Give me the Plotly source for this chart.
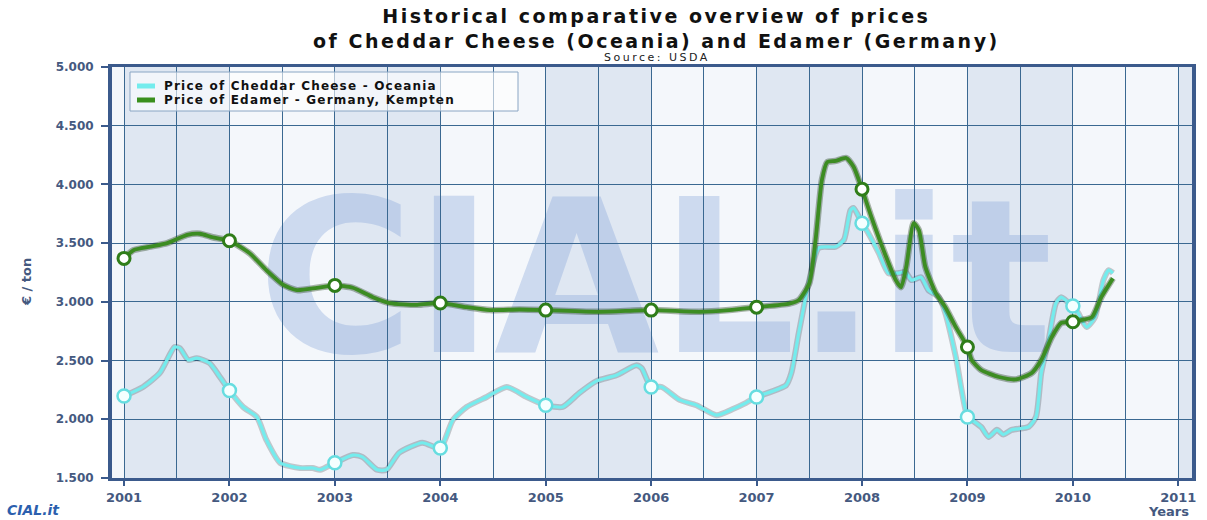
import plotly.graph_objects as go

# Cheddar Cheese - Oceania (decimal years, euro / ton)
cheddar_years = [2001.00, 2001.18, 2001.34, 2001.48, 2001.53, 2001.61, 2001.69, 2001.81, 2001.91,
                 2002.00, 2002.13, 2002.26, 2002.35, 2002.48, 2002.67, 2002.79, 2002.86,
                 2003.00, 2003.17, 2003.26, 2003.40, 2003.49, 2003.61, 2003.83,
                 2004.00, 2004.12, 2004.25, 2004.44, 2004.63, 2004.82,
                 2005.00, 2005.16, 2005.32, 2005.48, 2005.67, 2005.86, 2005.91,
                 2006.00, 2006.10, 2006.27, 2006.43, 2006.62, 2006.77, 2006.90,
                 2007.00, 2007.28, 2007.33, 2007.40, 2007.50, 2007.59, 2007.75, 2007.83, 2007.89, 2007.92,
                 2008.00, 2008.06, 2008.16, 2008.25, 2008.35, 2008.41, 2008.47, 2008.56, 2008.63, 2008.73,
                 2008.79, 2008.89,
                 2009.00, 2009.04, 2009.13, 2009.20, 2009.28, 2009.34, 2009.42, 2009.58, 2009.65, 2009.70,
                 2009.77, 2009.84, 2009.89, 2009.93,
                 2010.00, 2010.05, 2010.13, 2010.21, 2010.29, 2010.34, 2010.38]
cheddar_price = [2198, 2275, 2395, 2615, 2605, 2505, 2520, 2480, 2360,
                 2245, 2105, 2020, 1825, 1630, 1585, 1585, 1570,
                 1630, 1695, 1680, 1570, 1570, 1715, 1800,
                 1755, 1995, 2105, 2190, 2275, 2190,
                 2120, 2105, 2225, 2325, 2375, 2460, 2435,
                 2275, 2275, 2165, 2120, 2035, 2085, 2140,
                 2190, 2290, 2395, 2735, 3185, 3460, 3470, 3530, 3780, 3800,
                 3670, 3585, 3415, 3245, 3245, 3255, 3185, 3210, 3100, 3040,
                 2905, 2530,
                 2020, 1995, 1935, 1850, 1910, 1870, 1910, 1935, 2020, 2395,
                 2675, 2990, 3040, 3015,
                 2965, 2905, 2785, 2870, 3185, 3270, 3245]

# Edamer - Germany, Kempten
edamer_years = [2001.00, 2001.09, 2001.25, 2001.41, 2001.60, 2001.72, 2001.84,
                2002.00, 2002.19, 2002.35, 2002.51, 2002.64, 2002.83,
                2003.00, 2003.17, 2003.36, 2003.52, 2003.78,
                2004.00, 2004.25, 2004.47, 2004.75,
                2005.00, 2005.51,
                2006.00, 2006.46, 2006.74,
                2007.00, 2007.31, 2007.40, 2007.50, 2007.56, 2007.62, 2007.67, 2007.75, 2007.85, 2007.92,
                2008.00, 2008.09, 2008.23, 2008.32, 2008.37, 2008.42, 2008.49, 2008.54, 2008.60, 2008.70,
                2008.79, 2008.89,
                2009.00, 2009.04, 2009.13, 2009.30, 2009.46, 2009.61, 2009.70, 2009.80, 2009.89,
                2010.00, 2010.08, 2010.18, 2010.27, 2010.38]
edamer_price = [3370, 3440, 3470, 3500, 3570, 3580, 3550,
                3520, 3415, 3270, 3145, 3100, 3120,
                3140, 3120, 3040, 2990, 2975,
                2990, 2955, 2930, 2935,
                2930, 2915,
                2930, 2915, 2930,
                2955, 2985, 3015, 3160, 3530, 4040, 4190, 4200, 4225, 4150,
                3960, 3720, 3380, 3185, 3125, 3300, 3670, 3610, 3300, 3075,
                2955, 2785,
                2615, 2505, 2420, 2360, 2340, 2395, 2505, 2700, 2820,
                2830, 2845, 2870, 3040, 3200]

year_ticks = list(range(2001, 2012))
price_ticks = [1500, 2000, 2500, 3000, 3500, 4000, 4500, 5000]
price_labels = ['1.500', '2.000', '2.500', '3.000', '3.500', '4.000', '4.500', '5.000']

CYAN = '#74eced'
GREEN = '#3c8c22'
NAVY = '#3b5a8c'
LABEL = '#45597f'
GRID = '#3a6891'

# plot area in pixels (1207 x 520 page)
L, R, T, B = 112, 1192, 67, 478


def px_x(px):
    return (px - L) / (R - L)


def px_y(py):
    return (B - py) / (B - T)


def yearly(years, values):
    xs = [y for y in years if abs(y - round(y)) < 1e-6]
    ys = [values[years.index(y)] for y in xs]
    return xs, ys


def spaced(text, px):
    return '<span style="letter-spacing:%spx">%s</span>' % (px, text)


def label(text, x, y, size, color='#111111', anchor='center', angle=0):
    return dict(text=text, x=px_x(x), y=px_y(y), xref='paper', yref='paper', showarrow=False,
                xanchor=anchor, yanchor='middle', textangle=angle,
                font=dict(family='DejaVu Sans', size=size, color=color))


fig = go.Figure()

# soft shadows under the lines
fig.add_trace(go.Scatter(x=cheddar_years, y=cheddar_price, mode='lines',
                         line=dict(color='rgba(40,50,60,0.25)', width=6, shape='spline', smoothing=0.6),
                         hoverinfo='skip', showlegend=False))
fig.add_trace(go.Scatter(x=cheddar_years, y=cheddar_price, mode='lines',
                         name='Price of Cheddar Cheese - Oceania',
                         line=dict(color=CYAN, width=3.2, shape='spline', smoothing=0.6),
                         showlegend=False))
fig.add_trace(go.Scatter(x=edamer_years, y=edamer_price, mode='lines',
                         line=dict(color='rgba(20,50,10,0.35)', width=6.5, shape='spline', smoothing=0.6),
                         hoverinfo='skip', showlegend=False))
fig.add_trace(go.Scatter(x=edamer_years, y=edamer_price, mode='lines',
                         name='Price of Edamer - Germany, Kempten',
                         line=dict(color=GREEN, width=3.8, shape='spline', smoothing=0.6),
                         showlegend=False))

cx, cy = yearly(cheddar_years, cheddar_price)
fig.add_trace(go.Scatter(x=cx, y=cy, mode='markers', hoverinfo='skip', showlegend=False,
                         marker=dict(size=13, color='#f4ffff', line=dict(color='#66dde0', width=2.5))))
ex, ey = yearly(edamer_years, edamer_price)
fig.add_trace(go.Scatter(x=ex, y=ey, mode='markers', hoverinfo='skip', showlegend=False,
                         marker=dict(size=12, color='#ffffff', line=dict(color='#2f7d19', width=3))))

shapes = []
# alternating year bands
for yr in range(2001, 2012, 2):
    shapes.append(dict(type='rect', xref='x', yref='y domain', x0=yr, x1=yr + 1, y0=0, y1=1,
                       layer='below', line=dict(width=0), fillcolor='#dfe7f2'))
# watermark
shapes.append(dict(type='rect', xref='paper', yref='paper',
                   x0=px_x(240), x1=px_x(1070), y0=px_y(372), y1=px_y(152),
                   layer='below', line=dict(width=0), fillcolor='rgba(0,0,0,0)',
                   label=dict(text='<b>CIAL.it</b>', textposition='middle center',
                              font=dict(family='DejaVu Sans', size=214, color='rgba(130,162,218,0.34)'))))
# legend box and samples
shapes.append(dict(type='rect', xref='paper', yref='paper',
                   x0=px_x(130), x1=px_x(518), y0=px_y(111), y1=px_y(72),
                   line=dict(color='#8aa6c4', width=1), fillcolor='rgba(255,255,255,0.6)'))
shapes.append(dict(type='line', xref='paper', yref='paper',
                   x0=px_x(137), x1=px_x(155), y0=px_y(86), y1=px_y(86),
                   line=dict(color=CYAN, width=5)))
shapes.append(dict(type='line', xref='paper', yref='paper',
                   x0=px_x(137), x1=px_x(155), y0=px_y(100), y1=px_y(100),
                   line=dict(color='#3a8f1c', width=5)))

annotations = [
    label('<b>' + spaced('Historical comparative overview of prices', 2.5) + '<br>'
          + spaced('of Cheddar Cheese (Oceania) and Edamer (Germany)', 2.5) + '</b>', 656, 28, 19),
    label(spaced('Source: USDA', 2.5), 657, 58, 11, '#222222'),
    label(spaced('<b>Price of Cheddar Cheese - Oceania</b>', 1.2), 162, 86, 12, anchor='left'),
    label(spaced('<b>Price of Edamer - Germany, Kempten</b>', 1.2), 162, 100, 12, anchor='left'),
    label('<b>€ / ton</b>', 26, 282, 13, LABEL, angle=-90),
    label('<b>Years</b>', 1168, 511, 13, LABEL),
    label('<b><i>CIAL.it</i></b>', 5, 510, 14, '#2c5fae', anchor='left'),
]

fig.update_layout(
    width=1207, height=520,
    margin=dict(l=L, r=1207 - R, t=T, b=520 - B),
    paper_bgcolor='white',
    plot_bgcolor='#f4f7fb',
    shapes=shapes,
    annotations=annotations,
    showlegend=False,
    xaxis=dict(range=[2000.886, 2011.13], tickvals=year_ticks, ticktext=[str(y) for y in year_ticks],
               showgrid=True, gridcolor=GRID, gridwidth=1,
               minor=dict(tickvals=[y + 0.5 for y in range(2000, 2011)], showgrid=True,
                          gridcolor=GRID, gridwidth=1, ticks=''),
               showline=True, linecolor=NAVY, linewidth=3, mirror=True,
               ticks='outside', ticklen=5, tickcolor=NAVY, tickwidth=2,
               tickfont=dict(family='DejaVu Sans', size=13, color=LABEL, weight='bold'),
               zeroline=False),
    yaxis=dict(range=[1500, 5000], tickvals=price_ticks, ticktext=price_labels,
               showgrid=True, gridcolor=GRID, gridwidth=1,
               showline=True, linecolor=NAVY, linewidth=4, mirror=True,
               ticks='outside', ticklen=7, tickcolor=NAVY, tickwidth=2, ticklabelstandoff=5,
               tickfont=dict(family='DejaVu Sans', size=12, color=LABEL, weight='bold'),
               zeroline=False),
)

# the page body has a default 8px margin; drop it so the figure fills the window
fig.write_html("out.html", config={'displayModeBar': False},
               post_script="document.body.style.margin='0';")
